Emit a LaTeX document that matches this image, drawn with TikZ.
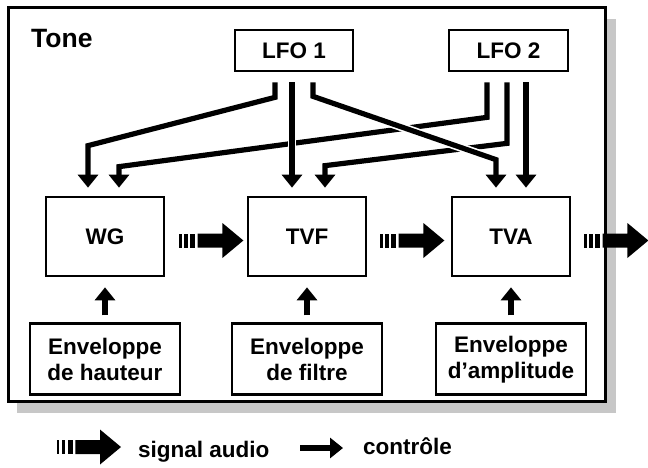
\documentclass[tikz,border=0pt]{standalone}
\usepackage{fontspec}
\setmainfont{Liberation Sans}
\usetikzlibrary{arrows.meta,positioning}
\definecolor{shadowgray}{gray}{0.78}

\begin{document}
\begin{tikzpicture}[x=1pt, y=1pt,
    box/.style={draw, line width=2.7pt, fill=white, align=center, inner sep=0pt,
        font=\fontsize{22.5}{26}\selectfont\bfseries},
    legend/.style={anchor=base west, inner sep=0pt, font=\fontsize{22.5}{26}\selectfont\bfseries},
    ctrl/.style={line width=5.2pt, -{Triangle[width=20pt,length=13pt]}},
    halo/.style={preaction={draw=white, line width=8.5pt, -}},
    sigarrow/.pic={
        \fill (0,-7) rectangle (2.3,7);
        \fill (5,-7) rectangle (8.3,7);
        \fill (11,-7) rectangle (15.7,7);
        \fill (18.3,-7) -- (43,-7) -- (43,-17.5) -- (64,0) -- (43,17.5) -- (43,7) -- (18.3,7) -- cycle;
    }]
    \useasboundingbox (0,0) rectangle (648,467);

    % Tone frame and its shadow
    \fill[shadowgray] (17,54) rectangle (616,448);
    \draw[line width=3pt, fill=white] (8,66) rectangle (605,459);
    \node[anchor=base west, inner sep=0pt, font=\fontsize{26.5}{30}\selectfont\bfseries] (tone) at (31,419) {Tone};

    % LFOs
    \node[box, minimum width=118pt, minimum height=41pt] (lfoone) at (294,416.5) {LFO 1};
    \node[box, minimum width=119pt, minimum height=41pt] (lfotwo) at (508.5,416.5) {LFO 2};

    % WG, TVF, TVA
    \node[box, minimum width=118pt, minimum height=79pt] (wg) at (105,230.5) {WG};
    \node[box, minimum width=118pt, minimum height=79pt] (tvf) at (307,230.5) {TVF};
    \node[box, minimum width=118pt, minimum height=79pt] (tva) at (511,230.5) {TVA};

    % Envelopes
    \node[box, minimum width=150pt, minimum height=71pt, below=45pt of wg] (envwg) {Enveloppe\\de hauteur};
    \node[box, minimum width=150pt, minimum height=71pt, below=45pt of tvf] (envtvf) {Enveloppe\\de filtre};
    \node[box, minimum width=150pt, minimum height=71pt, below=45pt of tva] (envtva) {Enveloppe\\d’amplitude};

    % Control inputs above the blocks
    \coordinate (wgL) at ([xshift=-17pt,yshift=8pt]wg.north);
    \coordinate (wgR) at ([xshift=14pt,yshift=8pt]wg.north);
    \coordinate (tvfL) at ([xshift=-15pt,yshift=8pt]tvf.north);
    \coordinate (tvfR) at ([xshift=18pt,yshift=8pt]tvf.north);
    \coordinate (tvaL) at ([xshift=-15pt,yshift=8pt]tva.north);
    \coordinate (tvaR) at ([xshift=15pt,yshift=8pt]tva.north);
    % LFO outputs
    \coordinate (oneA) at ([xshift=-19pt,yshift=-10pt]lfoone.south);
    \coordinate (oneB) at ([xshift=-2pt,yshift=-10pt]lfoone.south);
    \coordinate (oneC) at ([xshift=19pt,yshift=-10pt]lfoone.south);
    \coordinate (twoA) at ([xshift=-21.5pt,yshift=-10pt]lfotwo.south);
    \coordinate (twoB) at ([xshift=-1.5pt,yshift=-10pt]lfotwo.south);
    \coordinate (twoC) at ([xshift=17.5pt,yshift=-10pt]lfotwo.south);

    % LFO 2 lines (underneath)
    \draw[ctrl] (twoA) -- ++(0,-35) -- ([yshift=21pt]wgR) -- (wgR);
    \draw[ctrl] (twoB) -- ++(0,-61) -- ([yshift=22pt]tvfR) -- (tvfR);
    \draw[ctrl] (twoC) -- (tvaR);
    % LFO 1 lines (on top)
    \draw[ctrl, halo] (oneA) -- ++(0,-15) -- ([yshift=42pt]wgL) -- (wgL);
    \draw[ctrl, halo] (oneB) -- (tvfL);
    \draw[ctrl, halo] (oneC) -- ++(0,-14) -- ([yshift=28pt]tvaL) -- (tvaL);

    % Envelopes to blocks
    \draw[ctrl] ([yshift=7pt]envwg.north) -- ([yshift=-10pt]wg.south);
    \draw[ctrl] ([yshift=7pt]envtvf.north) -- ([yshift=-10pt]tvf.south);
    \draw[ctrl] ([yshift=7pt]envtva.north) -- ([yshift=-10pt]tva.south);

    % Audio signal
    \pic at ([xshift=14pt,yshift=-4pt]wg.east) {sigarrow};
    \pic at ([xshift=13pt,yshift=-4pt]tvf.east) {sigarrow};
    \pic at ([xshift=13pt,yshift=-4pt]tva.east) {sigarrow};

    % Legend
    \pic at (57,20) {sigarrow};
    \node[legend] (sigtext) at (138,10) {signal audio};
    \coordinate (ctlstart) at (300,19);
    \coordinate (ctlend) at (343,19);
    \draw[ctrl] (ctlstart) -- (ctlend);
    \node[legend] (ctltext) at (363,12.5) {contrôle};
\end{tikzpicture}
\end{document}
